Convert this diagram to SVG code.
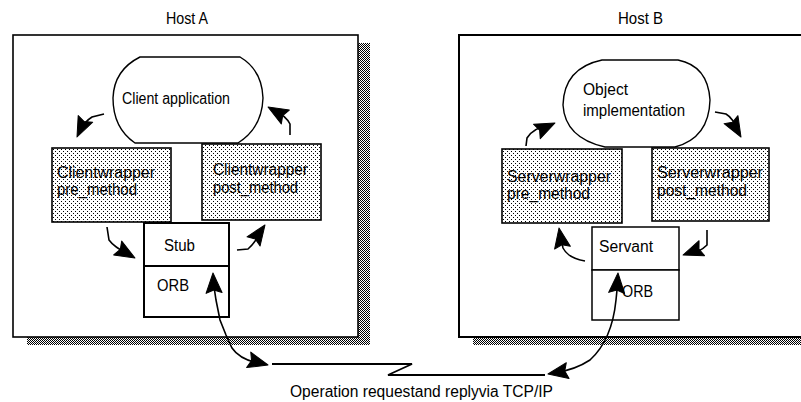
<svg xmlns="http://www.w3.org/2000/svg" width="801" height="402" viewBox="0 0 801 402">
<defs>
<pattern id="dither" width="2" height="2" patternUnits="userSpaceOnUse">
<rect width="2" height="2" fill="#fff"/>
<rect x="0" y="0" width="1" height="1" fill="#000"/>
<rect x="1" y="1" width="1" height="1" fill="#000"/>
</pattern>
<pattern id="dots" width="4" height="4" patternUnits="userSpaceOnUse">
<rect width="4" height="4" fill="#fff"/>
<rect x="1" y="1" width="1" height="1" fill="#000"/>
<rect x="3" y="3" width="1" height="1" fill="#000"/>
</pattern>
<path id="head" d="M0,0 L-20,-8 L-17,0 L-20,8 Z" fill="#000" stroke="#000" stroke-width="1" stroke-linejoin="round"/>
</defs>
<style>
text{font-family:"Liberation Sans",Arial,sans-serif;font-size:16px;fill:#000}
.host{fill:#fff;stroke:#000;stroke-width:1.6}
.shadow{fill:url(#dither)}
.wrap{fill:url(#dots);stroke:#000;stroke-width:1.6}
.box{fill:#fff;stroke:#000;stroke-width:2}
.blob{fill:#fff;stroke:#000;stroke-width:1.4}
.conn{fill:none;stroke:#000;stroke-width:1.6}
</style>
<rect width="801" height="402" fill="#fff"/>

<g id="hostA">
<rect class="shadow" x="27" y="43" width="343" height="302"/>
<rect class="host" x="13" y="35" width="345" height="302"/>
<text x="166" y="24" textLength="42" lengthAdjust="spacingAndGlyphs">Host A</text>
</g>

<g id="hostB">
<rect class="shadow" x="473" y="43" width="340" height="302"/>
<rect class="host" x="459" y="35" width="350" height="302" style="stroke-width:2"/>
<text x="618" y="24" textLength="45" lengthAdjust="spacingAndGlyphs">Host B</text>
</g>

<g id="clientApp">
<path class="blob" d="M140,57 L240,57 Q262,70 263,98 Q262,128 238,143 L135,143 Q113,128 113,98 Q114,70 140,57 Z"/>
<text x="122" y="104" textLength="108" lengthAdjust="spacingAndGlyphs">Client application</text>
</g>

<g id="clientPre">
<rect class="wrap" x="52" y="148" width="119" height="74"/>
<text x="57" y="178" textLength="98" lengthAdjust="spacingAndGlyphs">Clientwrapper</text>
<text x="57" y="195" textLength="80" lengthAdjust="spacingAndGlyphs">pre_method</text>
</g>

<g id="clientPost">
<rect class="wrap" x="202" y="144" width="119" height="76"/>
<text x="213" y="175" textLength="95" lengthAdjust="spacingAndGlyphs">Clientwrapper</text>
<text x="213" y="193" textLength="85" lengthAdjust="spacingAndGlyphs">post_method</text>
</g>

<g id="stub">
<rect class="box" x="144" y="223" width="85" height="43"/>
<text x="164" y="251" textLength="31" lengthAdjust="spacingAndGlyphs">Stub</text>
</g>

<g id="orbA">
<rect class="box" x="144" y="266" width="85" height="51"/>
<text x="157" y="291" textLength="32" lengthAdjust="spacingAndGlyphs">ORB</text>
</g>

<g id="objectImpl">
<path class="blob" d="M602,60 L678,60 Q708,66 710,100 Q709,138 675,147 L605,147 Q565,138 563,105 Q564,68 602,60 Z"/>
<text x="583" y="95" textLength="45" lengthAdjust="spacingAndGlyphs">Object</text>
<text x="583" y="116" textLength="102" lengthAdjust="spacingAndGlyphs">implementation</text>
</g>

<g id="serverPre">
<rect class="wrap" x="502" y="149" width="120" height="74"/>
<text x="507" y="182" textLength="104" lengthAdjust="spacingAndGlyphs">Serverwrapper</text>
<text x="507" y="199" textLength="83" lengthAdjust="spacingAndGlyphs">pre_method</text>
</g>

<g id="serverPost">
<rect class="wrap" x="652" y="148" width="117" height="73"/>
<text x="657" y="178" textLength="106" lengthAdjust="spacingAndGlyphs">Serverwrapper</text>
<text x="657" y="196" textLength="90" lengthAdjust="spacingAndGlyphs">post_method</text>
</g>

<g id="servant">
<rect class="box" x="592" y="227" width="87" height="43" style="stroke-width:1.5"/>
<text x="599" y="252" textLength="54" lengthAdjust="spacingAndGlyphs">Servant</text>
</g>

<g id="orbB">
<rect class="box" x="592" y="270" width="87" height="50" style="stroke-width:1.5"/>
<text x="622" y="297" textLength="31" lengthAdjust="spacingAndGlyphs">ORB</text>
</g>

<g id="connectors">
<path class="conn" d="M104,114 L92,117 Q84,122 80,131"/>
<use href="#head" transform="translate(77,137) rotate(115)"/>
<path class="conn" d="M290,135 L290,124 Q286,116 274,110"/>
<use href="#head" transform="translate(268,107) rotate(-150)"/>
<path class="conn" d="M107,227 L109,240 Q114,247 128,254"/>
<use href="#head" transform="translate(135,258) rotate(30)"/>
<path class="conn" d="M237,250 L248,249 Q254,244 261,232"/>
<use href="#head" transform="translate(265,225) rotate(-55)"/>
<path class="conn" d="M213,280 L216,300 L220,320 L226,335 L232,348 Q240,360 262,364"/>
<use href="#head" transform="translate(213,273) rotate(-93)"/>
<use href="#head" transform="translate(268,365) rotate(15)"/>
<path class="conn" d="M272,364 L412,364 L388,375 L545,375" style="stroke-width:1.8"/>
<path class="conn" d="M618,280 L616,300 Q612,340 590,360 Q575,370 554,373"/>
<use href="#head" transform="translate(618,273) rotate(-86)"/>
<use href="#head" transform="translate(548,374) rotate(170)"/>
<path class="conn" d="M526,146 L527,138 Q533,128 549,125"/>
<use href="#head" transform="translate(555,123) rotate(-25)"/>
<path class="conn" d="M715,112 L726,114 Q733,118 738,131"/>
<use href="#head" transform="translate(741,137) rotate(60)"/>
<path class="conn" d="M585,261 Q568,258 563,248 L560,234"/>
<use href="#head" transform="translate(559,228) rotate(-100)"/>
<path class="conn" d="M707,230 L707,245 Q700,252 689,254"/>
<use href="#head" transform="translate(683,255) rotate(160)"/>
</g>

<g id="netLabel">
<text x="290" y="397" textLength="263" lengthAdjust="spacingAndGlyphs">Operation requestand replyvia TCP/IP</text>
</g>
</svg>
